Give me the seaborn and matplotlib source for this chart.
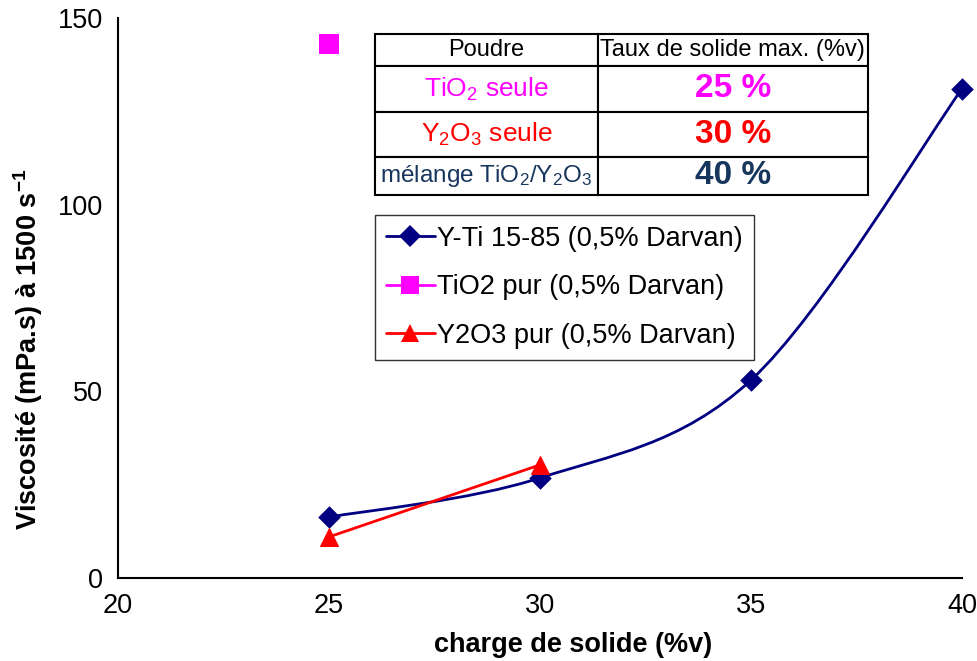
import numpy as np
import pandas as pd
import matplotlib
matplotlib.use("Agg")
import matplotlib.pyplot as plt
from matplotlib.path import Path
from matplotlib.patches import PathPatch
from matplotlib.lines import Line2D
import seaborn as sns

# Data
charge_mix = [25, 30, 35, 40]
visc_mix = [16.3, 26.8, 53.0, 131.0]
charge_tio2 = [25]
visc_tio2 = [143.0]
charge_y2o3 = [25, 30]
visc_y2o3 = [11.0, 30.3]

labels = ["Y-Ti 15-85 (0,5% Darvan)", "TiO2 pur (0,5% Darvan)", "Y2O3 pur (0,5% Darvan)"]
colors = ["#000080", "#FF00FF", "#FF0000"]

table_header = ["Poudre", "Taux de solide max. (%v)"]
table_powders = ["TiO$_2$ seule", "Y$_2$O$_3$ seule", "mélange TiO$_2$/Y$_2$O$_3$"]
table_max = ["25 %", "30 %", "40 %"]
table_colors = ["#FF00FF", "#FF0000", "#17365D"]

sns.set_style("white")
plt.rcParams["font.family"] = ["Liberation Sans", "DejaVu Sans"]
plt.rcParams["mathtext.fontset"] = "custom"
plt.rcParams["mathtext.rm"] = "Liberation Sans"
plt.rcParams["mathtext.it"] = "Liberation Sans:italic"
plt.rcParams["mathtext.bf"] = "Liberation Sans:bold"
for k in ["text.color", "axes.labelcolor", "xtick.color", "ytick.color"]:
    plt.rcParams[k] = "black"

fig = plt.figure(figsize=(9.77, 6.61), dpi=100)
ax = fig.add_axes([0.1208, 0.1256, 0.8638, 0.8472])

# smoothed line (Excel-like spline) for the mixture
pts = np.column_stack([charge_mix, visc_mix])
verts = [tuple(pts[0])]
codes = [Path.MOVETO]
n = len(pts)
for i in range(n - 1):
    p0 = pts[i - 1] if i > 0 else pts[i]
    p1, p2 = pts[i], pts[i + 1]
    p3 = pts[i + 2] if i + 2 < n else pts[i + 1]
    c1 = p1 + (p2 - p0) / 6
    c2 = p2 - (p3 - p1) / 6
    verts += [tuple(c1), tuple(c2), tuple(p2)]
    codes += [Path.CURVE4] * 3
ax.add_patch(PathPatch(Path(verts, codes), fill=False, edgecolor=colors[0], lw=2, zorder=2))
sns.scatterplot(x=charge_mix, y=visc_mix, marker="D", s=11.5 ** 2, color=colors[0],
                edgecolor=colors[0], linewidth=0, ax=ax, zorder=3, clip_on=False)

sns.scatterplot(x=charge_tio2, y=visc_tio2, marker="s", s=14 ** 2, color=colors[1],
                edgecolor=colors[1], linewidth=0, ax=ax, zorder=3)

df_y = pd.DataFrame({"x": charge_y2o3, "y": visc_y2o3})
sns.lineplot(data=df_y, x="x", y="y", color=colors[2], lw=2, marker="^", markersize=13.5,
             markeredgecolor=colors[2], ax=ax, zorder=4)

ax.set_xlim(20, 40)
ax.set_ylim(0, 150)
ax.set_xticks([20, 25, 30, 35, 40])
ax.set_yticks([0, 50, 100, 150])
ax.tick_params(axis="both", direction="out", length=6, width=1.2, labelsize=19.5,
               color="black", pad=5)
for s in ["top", "right"]:
    ax.spines[s].set_visible(False)
for s in ["left", "bottom"]:
    ax.spines[s].set_color("black")
    ax.spines[s].set_linewidth(1.5)
ax.set_xlabel("charge de solide (%v)", fontsize=19.5, fontweight="bold")
ax.set_ylabel(r"Viscosité (mPa.s) à 1500 s$^{\mathbf{-1}}$", fontsize=19.5, fontweight="bold")
ax.xaxis.set_label_coords(0.539, -0.097)
ax.yaxis.set_label_coords(-0.086, 0.409)

handles = [
    Line2D([], [], color=colors[0], lw=2, marker="D", markersize=11, markeredgewidth=0),
    Line2D([], [], color=colors[1], lw=2, marker="s", markersize=13, markeredgewidth=0),
    Line2D([], [], color=colors[2], lw=2, marker="^", markersize=13, markeredgewidth=0),
]
leg = ax.legend(handles, labels, loc="upper left", bbox_to_anchor=(0.3045, 0.648),
                fontsize=19.5, frameon=True, fancybox=False, handlelength=1.8,
                handletextpad=0.1, labelspacing=0.83, borderpad=0.4, borderaxespad=0)
leg.get_frame().set_edgecolor("black")
leg.get_frame().set_linewidth(1.0)

# table
cell_text = [table_header] + [[p, m] for p, m in zip(table_powders, table_max)]
tbl = ax.table(cellText=cell_text, cellLoc="center", colWidths=[0.452, 0.548],
               bbox=[0.3045, 0.684, 0.584, 0.2875])
tbl.auto_set_font_size(False)
row_h = [32, 46, 45, 38]
for (r, c), cell in tbl.get_celld().items():
    cell.set_edgecolor("black")
    cell.set_linewidth(1.5)
    cell.set_height(row_h[r] / sum(row_h) * 0.2875)
    t = cell.get_text()
    if r == 0:
        t.set_fontsize(17)
    elif c == 0:
        t.set_color(table_colors[r - 1])
        t.set_fontsize(19 if r < 3 else 17.5)
    else:
        t.set_color(table_colors[r - 1])
        t.set_fontsize(24)
        t.set_fontweight("bold")

fig.savefig("out.png", dpi=100)
